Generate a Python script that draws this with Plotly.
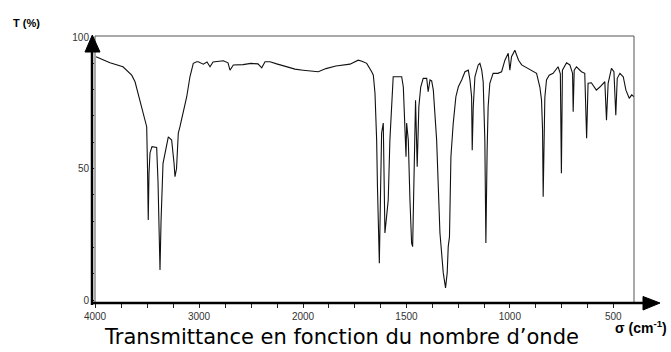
import plotly.graph_objects as go

# High-wavenumber part (4000-2000 cm-1), compressed scale
wn_high = [3990, 3856, 3731, 3647, 3615, 3567, 3519, 3503, 3495, 3488, 3481, 3471,
           3452, 3407, 3394, 3385, 3375, 3365, 3346, 3295, 3263, 3240, 3231, 3216,
           3199, 3183, 3151, 3118, 3087, 3055, 3022, 3007, 2959, 2923, 2894, 2865,
           2766, 2721, 2702, 2670, 2577, 2500, 2433, 2397, 2365, 2317, 2253, 2157,
           2077, 2000]
t_high = [92.5, 90.2, 88.7, 85.5, 83, 76, 69.2, 65.9, 50, 30.4, 48, 56,
          58.3, 58, 45, 30, 11.4, 30, 52, 62, 60.8, 52, 46.9, 50,
          63.5, 65.9, 71, 77.3, 84.9, 90, 90.6, 90.6, 89.7, 90.5, 88.7, 90.5,
          91, 90.2, 87.4, 89.4, 89.5, 90, 89.8, 88.3, 90.6, 90.6, 89.8, 88.7,
          87.8, 87.4]

# Low-wavenumber part (2000-400 cm-1)
wn_low = [2000, 1952, 1926, 1889, 1841, 1773, 1733, 1715, 1692, 1668, 1660, 1652,
          1644, 1640, 1636, 1631, 1625, 1620, 1612, 1609, 1604, 1596, 1588, 1580,
          1572, 1564, 1523, 1515, 1507, 1502, 1499, 1491, 1483, 1475, 1470, 1464,
          1456, 1448, 1440, 1431, 1419, 1402, 1395, 1386, 1378, 1370, 1354, 1338,
          1322, 1311, 1303, 1298, 1292, 1285, 1274, 1261, 1249, 1233, 1217, 1201,
          1193, 1185, 1182, 1177, 1169, 1153, 1145, 1136, 1129, 1121, 1116, 1110,
          1105, 1097, 1081, 1058, 1040, 1024, 1008, 1000, 992, 976, 958, 943,
          903, 871, 855, 847, 842, 839, 831, 823, 810, 791, 767, 756,
          751, 746, 726, 710, 697, 694, 689, 678, 654, 638, 629, 622,
          606, 582, 565, 541, 533, 525, 509, 497, 488, 481, 468, 452,
          439, 423, 411, 400]
t_low = [87.4, 87, 86.8, 88, 89, 89.7, 91.2, 90.8, 90, 86.8, 85.5, 78.6,
         60.8, 43, 21.6, 14, 41.8, 63.5, 67.3, 54.5, 25.5, 31.7, 38, 60.8,
         76, 84.9, 84.9, 81, 64.6, 54.5, 67.3, 60.8, 38, 21.6, 20.3, 48.2,
         76, 50.7, 73.5, 81, 84.3, 84.3, 79.2, 83.7, 83.3, 79.8, 60.8, 25.5,
         10.3, 4.6, 10.3, 20.3, 24, 54.5, 67, 77.3, 81.1, 83.7, 86.8, 87.4,
         83.7, 77.3, 57, 73.5, 84.9, 89.4, 90, 87.4, 83, 60.8, 21.7, 57,
         73.5, 82.4, 86.2, 86.2, 86.8, 91.2, 93.8, 87.4, 92.5, 95, 91.2, 89.4,
         87.8, 86.2, 81, 76, 64.6, 39.3, 77, 83.7, 85.5, 86.2, 88.7, 86,
         48.2, 87.4, 90.2, 89.4, 86.2, 71.6, 87.4, 88.7, 86.8, 86.2, 61.5, 82.4,
         82.6, 79.8, 81, 83, 68.4, 82.4, 88.1, 86.8, 70.3, 84.3, 86.2, 84.9,
         79.8, 76.7, 78, 77.3]

ticks_high = [4000, 3750, 3500, 3250, 3000, 2750, 2500, 2250, 2000]
labels_high = ["4000", "", "", "", "3000", "", "", "", "2000"]
ticks_low = [1875, 1750, 1625, 1500, 1375, 1250, 1125, 1000, 875, 750, 625, 500]
labels_low = ["", "", "", "1500", "", "", "", "1000", "", "", "", "500"]
y_ticks = [0, 10, 20, 30, 40, 50, 60, 70, 80, 90, 100]
y_labels = ["0", "", "", "", "", "50", "", "", "", "", "100"]

W, H = 671, 352
L, R, T, B = 95, 37, 36, 49
pw = W - L - R
ph = H - T - B
split = 208 / pw

def px(x):
    return (x - L) / pw

def py(y):
    return (H - B - y) / ph

line_style = dict(color="#111111", width=1.1)
fig = go.Figure()
fig.add_trace(go.Scatter(x=wn_high, y=t_high, mode="lines", line=line_style,
                         xaxis="x", yaxis="y", showlegend=False, hoverinfo="skip"))
fig.add_trace(go.Scatter(x=wn_low, y=t_low, mode="lines", line=line_style,
                         xaxis="x2", yaxis="y", showlegend=False, hoverinfo="skip"))

tickfont = dict(family="Liberation Sans, Arial, sans-serif", size=10, color="#333333")
common_x = dict(showgrid=False, zeroline=False, showline=False, ticks="outside",
                ticklen=4, tickcolor="#222222", tickwidth=1, tickfont=tickfont,
                anchor="y")

fig.update_layout(
    width=W, height=H,
    margin=dict(l=L, r=R, t=T, b=B),
    paper_bgcolor="white", plot_bgcolor="white",
    xaxis=dict(domain=[0, split], range=[4000, 2000], tickvals=ticks_high,
               ticktext=labels_high, **common_x),
    xaxis2=dict(domain=[split, 1], range=[2000, 400], tickvals=ticks_low,
                ticktext=labels_low, **common_x),
    yaxis=dict(range=[-1.14, 100.4], showgrid=False, zeroline=False, showline=False,
               tickvals=y_ticks, ticktext=y_labels, ticks="outside", ticklen=3,
               tickcolor="#222222", tickfont=tickfont),
    shapes=[
        dict(type="rect", xref="paper", yref="paper", x0=0, x1=1, y0=0, y1=1,
             line=dict(color="#555555", width=1)),
        dict(type="line", xref="paper", yref="paper", x0=px(92), x1=px(92),
             y0=py(305), y1=py(50), line=dict(color="black", width=2.5)),
        dict(type="path", xref="paper", yref="paper",
             path=f"M {px(85)},{py(52)} L {px(100)},{py(52)} L {px(92.3)},{py(35)} Z",
             fillcolor="black", line=dict(color="black", width=1)),
        dict(type="line", xref="paper", yref="paper", x0=px(92), x1=px(645),
             y0=py(303), y1=py(303), line=dict(color="black", width=2.5)),
        dict(type="path", xref="paper", yref="paper",
             path=f"M {px(643)},{py(296.5)} L {px(643)},{py(310)} L {px(660)},{py(303)} Z",
             fillcolor="black", line=dict(color="black", width=1)),
    ],
    annotations=[
        dict(text="<b>T (%)</b>", xref="paper", yref="paper", x=px(11), y=py(23),
             xanchor="left", yanchor="middle", showarrow=False,
             font=dict(family="Liberation Sans, Arial, sans-serif", size=11, color="black")),
        dict(text="<b>σ (cm<sup>-1</sup>)</b>", xref="paper", yref="paper", x=px(641),
             y=py(327), xanchor="center", yanchor="middle", showarrow=False,
             font=dict(family="Liberation Sans, Arial, sans-serif", size=14, color="black")),
        dict(text="Transmittance en fonction du nombre d’onde", xref="paper", yref="paper",
             x=px(341), y=py(337), xanchor="center", yanchor="middle", showarrow=False,
             font=dict(family="DejaVu Sans, sans-serif", size=21, color="black")),
    ],
)

fig.write_html("out.html", config={"displayModeBar": False},
               post_script="document.body.style.margin='0';document.body.style.overflow='hidden';")
